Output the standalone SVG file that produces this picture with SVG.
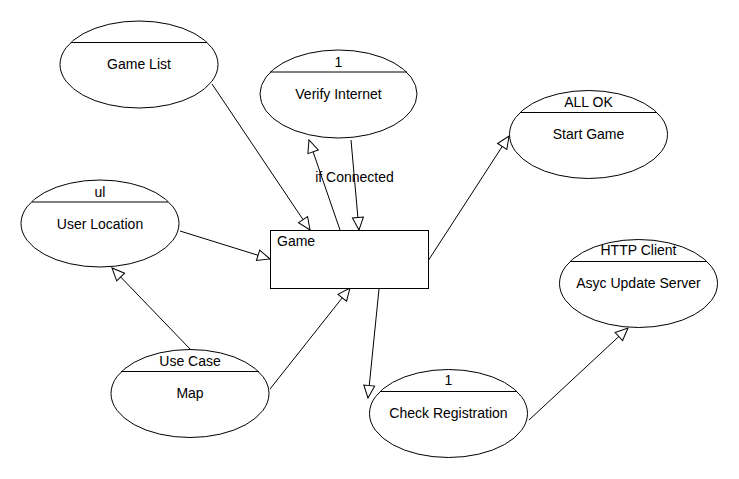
<svg xmlns="http://www.w3.org/2000/svg" width="739" height="479" viewBox="0 0 739 479">
<defs>
<style>
.shape{fill:#fff;stroke:#000;stroke-width:1}
.div{stroke:#000;stroke-width:1}
.t{font-family:"Liberation Sans",Arial,sans-serif;font-size:14px;fill:#000;text-anchor:middle}
.tl{font-family:"Liberation Sans",Arial,sans-serif;font-size:14px;fill:#000}
.c{stroke:#000;stroke-width:1;fill:none;marker-end:url(#tri)}
</style>
<marker id="tri" markerUnits="userSpaceOnUse" markerWidth="16" markerHeight="14" viewBox="0 0 16 14" refX="13.5" refY="7" orient="auto">
<path d="M1,1.5 L13.5,7 L1,12.5 Z" fill="#fff" stroke="#000" stroke-width="1"/>
</marker>
</defs>
<rect width="739" height="479" fill="#fff"/>
<g id="connectors">
<line class="c" x1="212" y1="84" x2="310" y2="230"/>
<line class="c" x1="340" y1="230" x2="309" y2="140"/>
<line class="c" x1="351" y1="140" x2="359" y2="230"/>
<line class="c" x1="180" y1="231" x2="270" y2="259"/>
<line class="c" x1="190" y1="349" x2="112" y2="268"/>
<line class="c" x1="270" y1="389" x2="350" y2="288"/>
<line class="c" x1="428" y1="261" x2="509" y2="136"/>
<line class="c" x1="379" y1="289" x2="368" y2="398"/>
<line class="c" x1="529" y1="420" x2="628" y2="328"/>
<text class="t" x="354.5" y="182">if Connected</text>
</g>
<g id="game-list">
<ellipse class="shape" cx="139" cy="64.5" rx="79" ry="43.5"/>
<line class="div" x1="71" y1="42.5" x2="207" y2="42.5"/>
<text class="t" x="139" y="69">Game List</text>
</g>
<g id="verify-internet">
<ellipse class="shape" cx="338.5" cy="94" rx="78.5" ry="44"/>
<line class="div" x1="270" y1="72" x2="407" y2="72"/>
<text class="t" x="338.5" y="67">1</text>
<text class="t" x="338.5" y="99">Verify Internet</text>
</g>
<g id="user-location">
<ellipse class="shape" cx="100" cy="223.5" rx="79" ry="43.5"/>
<line class="div" x1="32" y1="202" x2="168" y2="202"/>
<text class="t" x="100" y="197">ul</text>
<text class="t" x="100" y="229">User Location</text>
</g>
<g id="map">
<ellipse class="shape" cx="190" cy="393.5" rx="79" ry="44"/>
<line class="div" x1="121" y1="371.5" x2="259" y2="371.5"/>
<text class="t" x="190" y="366">Use Case</text>
<text class="t" x="190" y="398">Map</text>
</g>
<g id="game">
<rect class="shape" x="270.5" y="230.5" width="158" height="58"/>
<text class="tl" x="277" y="246">Game</text>
</g>
<g id="start-game">
<ellipse class="shape" cx="588.5" cy="134.5" rx="79" ry="44"/>
<line class="div" x1="520" y1="112.5" x2="657" y2="112.5"/>
<text class="t" x="588.5" y="107">ALL OK</text>
<text class="t" x="588.5" y="139">Start Game</text>
</g>
<g id="async-update-server">
<ellipse class="shape" cx="638.5" cy="283.5" rx="79" ry="44"/>
<line class="div" x1="570" y1="261.5" x2="707" y2="261.5"/>
<text class="t" x="638.5" y="255">HTTP Client</text>
<text class="t" x="638.5" y="288">Asyc Update Server</text>
</g>
<g id="check-registration">
<ellipse class="shape" cx="448.5" cy="413.5" rx="79" ry="44"/>
<line class="div" x1="380" y1="391.5" x2="517" y2="391.5"/>
<text class="t" x="448.5" y="385">1</text>
<text class="t" x="448.5" y="418">Check Registration</text>
</g>
</svg>
